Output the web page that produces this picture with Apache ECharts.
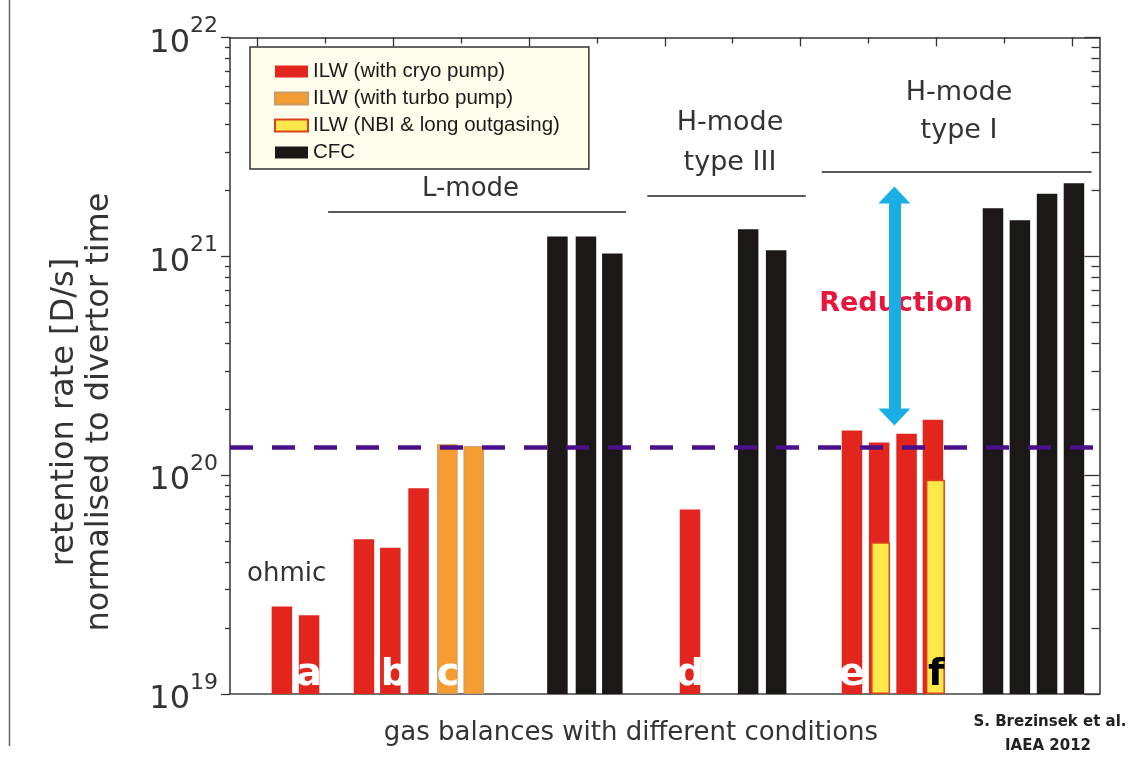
<!DOCTYPE html>
<html>
<head>
<meta charset="utf-8">
<script src="https://cdn.jsdelivr.net/npm/echarts@6/dist/echarts.min.js"></script>
<style>html,body{margin:0;padding:0;background:#fff}#c{width:1128px;height:761px}</style>
</head>
<body>
<div id="c"></div>
<script>
// ---------- data ----------
const seriesNames = ['ILW (with cryo pump)', 'ILW (with turbo pump)', 'ILW (NBI & long outgasing)', 'CFC'];
const cryoX = [1.91, 2.91, 4.93, 5.90, 6.94, 16.93, 22.89, 23.89, 24.90, 25.87];
const cryoY = [2.51e19, 2.29e19, 5.10e19, 4.66e19, 8.72e19, 6.97e19, 1.60e20, 1.41e20, 1.546e20, 1.79e20];
const turboX = [8.0, 8.97];
const turboY = [1.386e20, 1.357e20];
const nbiX = [23.97, 25.99];
const nbiY = [4.94e19, 9.53e19];
const cfcX = [12.05, 13.10, 14.07, 19.07, 20.10, 28.08, 29.07, 30.07, 31.06];
const cfcY = [1.233e21, 1.233e21, 1.03e21, 1.33e21, 1.067e21, 1.66e21, 1.46e21, 1.93e21, 2.16e21];
const letterNames = ['a', 'b', 'c', 'd', 'e', 'f'];
const letterX = [2.91, 6.05, 8.02, 16.93, 22.89, 25.99];
const refLevel = 1.339e20;
const groupNames = ['L-mode', 'H-mode\ntype III', 'H-mode\ntype I'];
const groupStartX = [3.61, 15.36, 21.78];
const groupEndX = [14.57, 21.19, 31.71];
const groupLineY = [1.604e21, 1.898e21, 2.444e21];
const arrowX = 24.45;
const arrowFrom = 1.845e20;
const arrowTo = 1.908e21;
const yMajorTicks = [1e19, 1e20, 1e21, 1e22];
const yMinorTicks = [2e19, 3e19, 4e19, 5e19, 6e19, 7e19, 8e19, 9e19,
                     2e20, 3e20, 4e20, 5e20, 6e20, 7e20, 8e20, 9e20,
                     2e21, 3e21, 4e21, 5e21, 6e21, 7e21, 8e21, 9e21];
const xMajorTicks = [1, 6, 11, 16, 21, 26, 31];
const xMinorTicks = [3.5, 8.5, 13.5, 18.5, 23.5, 28.5];

// ---------- styles ----------
const RED = '#e2261d', ORANGE = '#f59d33', YELLOW = '#fde84c', BLACK = '#1b1817';
const PURPLE = '#4a0f8b', BLUE = '#19afe5';
const FONT = 'DejaVu Sans';
const AX = '#333';
const pairs = (xs, ys) => xs.map((x, i) => [x, ys[i]]);

const chart = echarts.init(document.getElementById('c'), null, {renderer: 'canvas', width: 1128, height: 761});

const hiddenY = (pos, len, inside, vals, showLine) => ({
  type: 'log', logBase: 10, min: 1e19, max: 1e22, position: pos,
  axisLine: {show: !!showLine, onZero: false, lineStyle: {color: AX, width: 1.5}},
  axisTick: {show: true, inside: inside, length: len, customValues: vals, lineStyle: {color: AX, width: 1.3}},
  axisLabel: {show: false}, splitLine: {show: false}, minorTick: {show: false}
});

const option = {
  animation: false,
  backgroundColor: '#fff',
  grid: {left: 230, right: 28.5, top: 37.5, bottom: 67, outerBoundsMode: 'none'},
  legend: {
    data: seriesNames, orient: 'vertical', left: 250, top: 47,
    backgroundColor: '#fffdeb', borderColor: '#333', borderWidth: 1.5, borderRadius: 0,
    padding: [14, 29, 6, 24], itemGap: 6, itemWidth: 33, itemHeight: 12, icon: 'rect',
    textStyle: {fontFamily: 'Liberation Sans', fontSize: 20.5, color: '#1a1a1a'},
    selectedMode: false
  },
  xAxis: [
    {type: 'value', min: 0, max: 32, position: 'bottom',
     axisLine: {show: true, onZero: false, lineStyle: {color: '#444', width: 1.5}},
     axisTick: {show: false}, axisLabel: {show: false}, splitLine: {show: false}},
    {type: 'value', min: 0, max: 32, position: 'top',
     axisLine: {show: true, onZero: false, lineStyle: {color: AX, width: 1.5}},
     axisTick: {show: true, inside: true, length: 9, customValues: xMajorTicks, lineStyle: {color: AX, width: 1.3}},
     axisLabel: {show: false}, splitLine: {show: false}},
    {type: 'value', min: 0, max: 32, position: 'top',
     axisLine: {show: false, onZero: false},
     axisTick: {show: true, inside: true, length: 6, customValues: xMinorTicks, lineStyle: {color: AX, width: 1.3}},
     axisLabel: {show: false}, splitLine: {show: false}}
  ],
  yAxis: [
    {type: 'log', logBase: 10, min: 1e19, max: 1e22, startValue: 1e19, position: 'left',
     axisLine: {show: true, onZero: false, lineStyle: {color: AX, width: 1.5}},
     axisTick: {show: true, inside: false, length: 9, customValues: yMajorTicks, lineStyle: {color: AX, width: 1.3}},
     axisLabel: {
       show: true, margin: 12, customValues: yMajorTicks,
       formatter: v => '{b|10}{s|' + Math.round(Math.log10(v)) + '}',
       rich: {
         b: {fontFamily: FONT, fontSize: 32, color: AX, lineHeight: 44, verticalAlign: 'bottom'},
         s: {fontFamily: FONT, fontSize: 22, color: AX, lineHeight: 40, verticalAlign: 'top'}
       }
     },
     splitLine: {show: false}, minorTick: {show: false}},
    hiddenY('left', 5, false, yMinorTicks, false),
    hiddenY('right', 15, true, yMajorTicks, true),
    hiddenY('right', 8, true, yMinorTicks, false)
  ],
  series: [
    {type: 'bar', name: seriesNames[0], data: pairs(cryoX, cryoY), barWidth: 20.5, barGap: '-100%',
     itemStyle: {color: RED}, silent: true},
    {type: 'bar', name: seriesNames[1], data: pairs(turboX, turboY), barWidth: 20.5, barGap: '-100%',
     itemStyle: {color: ORANGE, borderColor: '#c99a66', borderWidth: 1}, silent: true},
    {type: 'bar', name: seriesNames[2], data: pairs(nbiX, nbiY), barWidth: 19, barGap: '-100%',
     itemStyle: {color: YELLOW, borderColor: '#d9431c', borderWidth: 1.5}, silent: true},
    {type: 'bar', name: seriesNames[3], data: pairs(cfcX, cfcY), barWidth: 20.5, barGap: '-100%',
     itemStyle: {color: BLACK}, silent: true},
    {type: 'scatter', name: 'letters', silent: true, z: 6,
     data: letterX.map((x, i) => ({
       value: [x, 1e19],
       label: {formatter: letterNames[i], color: letterNames[i] === 'f' ? '#000' : '#fff'}
     })),
     symbolSize: 1, itemStyle: {color: 'rgba(0,0,0,0)', opacity: 1},
     label: {show: true, position: 'top', distance: -1, fontFamily: FONT, fontWeight: 'bold', fontSize: 38, opacity: 1}},
    {type: 'line', name: 'annotations', data: [], silent: true,
     markLine: {
       silent: true, symbol: ['none', 'none'], label: {show: false}, animation: false,
       data: [
         {yAxis: refLevel, lineStyle: {color: PURPLE, width: 4.5, type: [23, 19]}},
         ...groupNames.map((g, i) => [
           {coord: [groupStartX[i], groupLineY[i]], lineStyle: {color: '#222', width: 1.5, type: 'solid'}},
           {coord: [groupEndX[i], groupLineY[i]]}
         ]),
         [
           {coord: [arrowX, arrowFrom], symbol: 'triangle', symbolSize: [32, 17],
            lineStyle: {color: BLUE, width: 12, type: 'solid'}, itemStyle: {color: BLUE}},
           {coord: [arrowX, arrowTo], symbol: 'triangle', symbolSize: [32, 17], itemStyle: {color: BLUE}}
         ]
       ]
     }}
  ],
  graphic: [
    {type: 'line', shape: {x1: 9.5, y1: 0, x2: 9.5, y2: 746}, style: {stroke: '#666', lineWidth: 1.5}, silent: true},
    {type: 'text', x: 82, y: 412, rotation: Math.PI / 2, silent: true,
     style: {text: 'retention rate [D/s]\nnormalised to divertor time', fontFamily: FONT, fontSize: 32,
             fill: AX, align: 'center', verticalAlign: 'middle', lineHeight: 35}},
    {type: 'text', x: 470.5, y: 189, silent: true,
     style: {text: groupNames[0], fontFamily: FONT, fontSize: 26, fill: AX, align: 'center', verticalAlign: 'middle'}},
    {type: 'text', x: 730, y: 142.8, silent: true,
     style: {text: groupNames[1], fontFamily: FONT, fontSize: 27, fill: AX, align: 'center', verticalAlign: 'middle', lineHeight: 40}},
    {type: 'text', x: 959, y: 112, silent: true,
     style: {text: groupNames[2], fontFamily: FONT, fontSize: 27, fill: AX, align: 'center', verticalAlign: 'middle', lineHeight: 38.5}},
    {type: 'text', x: 286.7, y: 574.4, silent: true,
     style: {text: 'ohmic', fontFamily: FONT, fontSize: 26, fill: AX, align: 'center', verticalAlign: 'middle'}},
    {type: 'text', x: 896, y: 303.8, silent: true,
     style: {text: 'Reduction', fontFamily: FONT, fontWeight: 'bold', fontSize: 27, fill: '#e8163c', align: 'center', verticalAlign: 'middle'}},
    {type: 'text', x: 631, y: 733.4, silent: true,
     style: {text: 'gas balances with different conditions', fontFamily: FONT, fontSize: 26, fill: AX, align: 'center', verticalAlign: 'middle'}},
    {type: 'text', x: 1050, y: 722, silent: true,
     style: {text: 'S. Brezinsek et al.', fontFamily: FONT, fontWeight: 'bold', fontSize: 15, fill: '#222', align: 'center', verticalAlign: 'middle'}},
    {type: 'text', x: 1048, y: 746, silent: true,
     style: {text: 'IAEA 2012', fontFamily: FONT, fontWeight: 'bold', fontSize: 15, fill: '#222', align: 'center', verticalAlign: 'middle'}}
  ]
};
chart.setOption(option);
</script>
</body>
</html>
